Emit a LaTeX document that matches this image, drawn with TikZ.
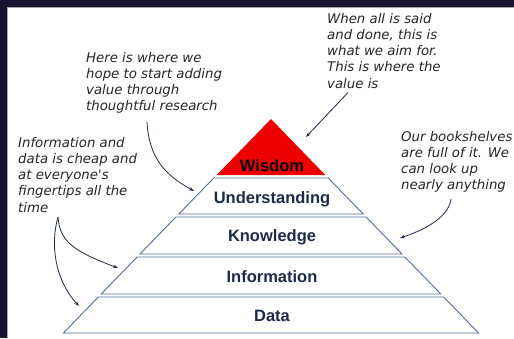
\documentclass[tikz,border=0pt]{standalone}
\usepackage{fontspec}
\usepackage{tikz}
\usetikzlibrary{calc,arrows.meta}
\newfontfamily\handfont{DejaVu Sans}
\newfontfamily\labelfont{Liberation Sans}
\definecolor{frame}{HTML}{16142F}
\definecolor{edge}{HTML}{4F6E9E}
\definecolor{ink}{HTML}{1C2B4A}
\definecolor{topred}{HTML}{EE0000}

\begin{document}
\begin{tikzpicture}[x=1pt,y=-1pt,
    layer/.style={draw=edge,line width=0.9pt,fill=white,line join=miter},
    level/.style={font=\labelfont\bfseries\fontsize{16.5}{18}\selectfont,text=ink,inner sep=0pt},
    note/.style={font=\handfont\itshape\fontsize{13.3}{16.2}\selectfont,text=black!85,align=left,anchor=north west,inner sep=0pt},
    pointer/.style={draw=ink,line width=0.8pt,-{Stealth[length=5pt,width=3.5pt]}}]
  \useasboundingbox (0,0) rectangle (514,338);
  % frame
  \fill[frame] (0,0) rectangle (514,338);
  \fill[white] (7,7) rectangle (514,338);
  \draw[gray!70,line width=0.8pt] (7.4,338) -- (7.4,7.4) -- (514,7.4);
  % pyramid
  \fill[topred] (271,119) -- (325.3,175) -- (216.7,175) -- cycle;
  \draw[layer] (213.8,178) -- (328.2,178) -- (363.2,214) -- (178.8,214) -- cycle;
  \draw[layer] (175.9,217) -- (366.1,217) -- (402,254) -- (140,254) -- cycle;
  \draw[layer] (137.1,257) -- (404.9,257) -- (440.8,294) -- (101.2,294) -- cycle;
  \draw[layer] (98.3,297) -- (443.7,297) -- (478.6,333) -- (63.4,333) -- cycle;
  \node[level,text=black] (wis) at (272,166) {Wisdom};
  \node[level] (und) at (272,199) {Understanding};
  \node[level] (kno) at (272,237) {Knowledge};
  \node[level] (inf) at (272,277) {Information};
  \node[level] (dat) at (272,316) {Data};
  % notes
  \node[note] (here) at (86,52) {Here is where we\\hope to start adding\\value through\\thoughtful research};
  \node[note] (aim) at (327,13) {When all is said\\and done, this is\\what we aim for.\\This is where the\\value is};
  \node[note] (cheap) at (18,137) {Information and\\data is cheap and\\at everyone's\\fingertips all the\\time};
  \node[note] (shelf) at (401,131) {Our bookshelves\\are full of it. We\\can look up\\nearly anything};
  \coordinate (toUnd) at (194,191);
  \coordinate (toWis) at (306,137);
  \coordinate (toKno) at (400,238);
  \coordinate (toInf) at (118,268);
  \coordinate (toDat) at (79,306);
  \coordinate (fork) at (58,217);
  % arrows
  \draw[pointer] ([xshift=61pt,yshift=-8pt]here.south west) .. controls (149,158) and (165,175) .. (toUnd);
  \draw[pointer] ([xshift=21pt,yshift=-4pt]aim.south west) -- (toWis);
  \draw[pointer] ([xshift=50pt,yshift=-6pt]shelf.south west) .. controls (449,215) and (430,228) .. (toKno);
  \draw[pointer] (fork) .. controls (60,240) and (70,250) .. (toInf);
  \draw[pointer] (fork) .. controls (50,245) and (55,280) .. (toDat);
\end{tikzpicture}
\end{document}
